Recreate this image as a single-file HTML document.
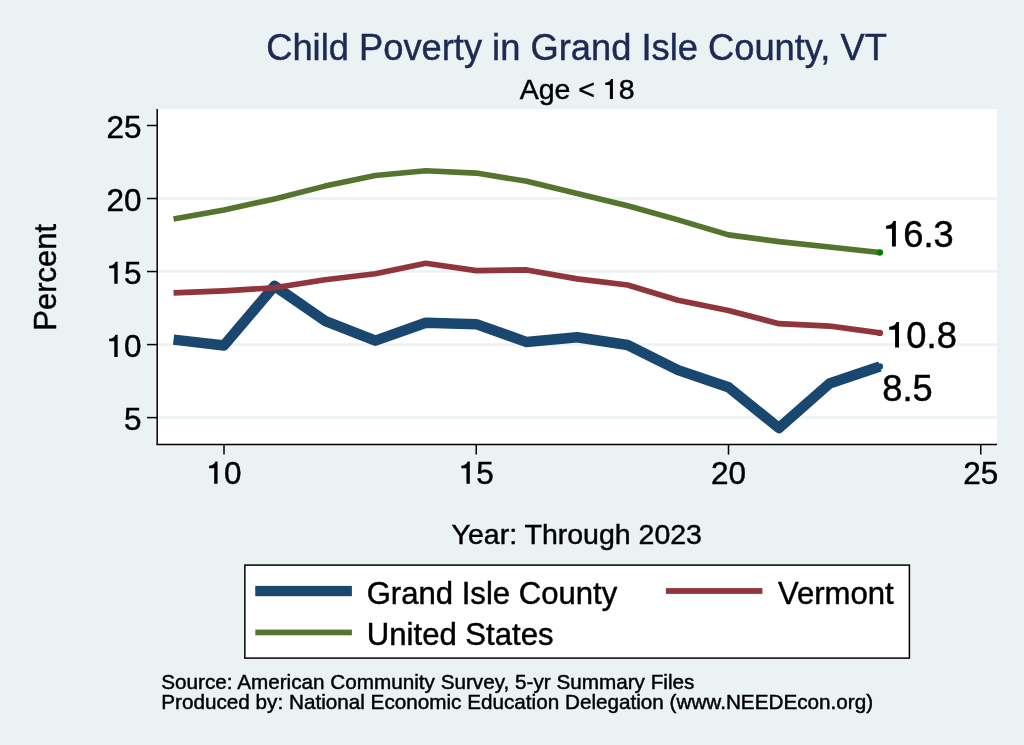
<!DOCTYPE html>
<html><head><meta charset="utf-8"><title>Child Poverty in Grand Isle County, VT</title>
<style>
html,body{margin:0;padding:0;background:#eaf2f3;}
body{width:1024px;height:745px;overflow:hidden;}
svg{display:block;will-change:transform;}
text{font-family:"Liberation Sans", sans-serif;white-space:pre;}
</style></head>
<body>
<svg width="1024" height="745" viewBox="0 0 1024 745">
<rect x="0" y="0" width="1024" height="745" fill="#eaf2f3"/>
<rect x="157" y="109" width="840" height="335.4" fill="#fff"/>
<line x1="158" x2="997" y1="417.60" y2="417.60" stroke="#eaf2f3" stroke-width="2.5"/>
<line x1="158" x2="997" y1="344.58" y2="344.58" stroke="#eaf2f3" stroke-width="2.5"/>
<line x1="158" x2="997" y1="271.55" y2="271.55" stroke="#eaf2f3" stroke-width="2.5"/>
<line x1="158" x2="997" y1="198.53" y2="198.53" stroke="#eaf2f3" stroke-width="2.5"/>
<polyline points="173.55,339.61 224.00,345.45 274.45,285.86 324.90,320.77 375.35,340.63 425.80,322.81 476.25,324.13 526.70,342.09 577.15,337.27 627.60,345.01 678.05,370.13 728.50,387.22 778.95,427.97 829.40,383.57 879.85,366.48" fill="none" stroke="#1a476f" stroke-width="10.5" stroke-linejoin="round" stroke-linecap="butt"/>
<circle cx="879.85" cy="366.48" r="3.2" fill="#1a476f"/>
<polyline points="173.55,292.87 224.00,290.83 274.45,287.76 324.90,279.73 375.35,273.74 425.80,263.23 476.25,270.67 526.70,269.94 577.15,278.85 627.60,284.99 678.05,300.32 728.50,310.55 778.95,323.69 829.40,326.03 879.85,332.89" fill="none" stroke="#90353b" stroke-width="5.7" stroke-linejoin="round" stroke-linecap="butt"/>
<circle cx="879.85" cy="332.89" r="3.2" fill="#90353b"/>
<polyline points="173.55,218.97 224.00,209.92 274.45,198.96 324.90,186.11 375.35,175.45 425.80,170.78 476.25,173.11 526.70,181.29 577.15,193.56 627.60,205.68 678.05,219.85 728.50,234.89 778.95,241.61 829.40,247.01 879.85,252.56" fill="none" stroke="#55752f" stroke-width="5.6" stroke-linejoin="round" stroke-linecap="butt"/>
<circle cx="879.85" cy="252.56" r="3.2" fill="#008000"/>
<line x1="157.2" x2="157.2" y1="109" y2="445.1" stroke="#000" stroke-width="1.5"/>
<line x1="156.5" x2="997" y1="444.4" y2="444.4" stroke="#000" stroke-width="1.5"/>
<line x1="147" x2="157.2" y1="417.60" y2="417.60" stroke="#000" stroke-width="1.5"/>
<text x="124.08" y="429.90" font-size="31.5" style="fill:#000;stroke:#000;stroke-width:0.45px">5</text>
<line x1="147" x2="157.2" y1="344.58" y2="344.58" stroke="#000" stroke-width="1.5"/>
<text x="106.56" y="356.88" font-size="31.5" style="fill:#000;stroke:#000;stroke-width:0.45px"> 0</text>
<path d="M0.352,0L0.352,0.702L0.284,0.702C0.263,0.626 0.2,0.578 0.082,0.572L0.082,0.494L0.245,0.494L0.245,0Z" transform="translate(106.56,356.88) scale(31.5,-31.5)" style="fill:#000"/>
<line x1="147" x2="157.2" y1="271.55" y2="271.55" stroke="#000" stroke-width="1.5"/>
<text x="106.56" y="283.85" font-size="31.5" style="fill:#000;stroke:#000;stroke-width:0.45px"> 5</text>
<path d="M0.352,0L0.352,0.702L0.284,0.702C0.263,0.626 0.2,0.578 0.082,0.572L0.082,0.494L0.245,0.494L0.245,0Z" transform="translate(106.56,283.85) scale(31.5,-31.5)" style="fill:#000"/>
<line x1="147" x2="157.2" y1="198.53" y2="198.53" stroke="#000" stroke-width="1.5"/>
<text x="106.56" y="210.83" font-size="31.5" style="fill:#000;stroke:#000;stroke-width:0.45px">20</text>
<line x1="147" x2="157.2" y1="125.50" y2="125.50" stroke="#000" stroke-width="1.5"/>
<text x="106.56" y="137.80" font-size="31.5" style="fill:#000;stroke:#000;stroke-width:0.45px">25</text>
<line x1="224.00" x2="224.00" y1="444.4" y2="454.6" stroke="#000" stroke-width="1.5"/>
<text x="206.48" y="483.70" font-size="31.5" style="fill:#000;stroke:#000;stroke-width:0.45px"> 0</text>
<path d="M0.352,0L0.352,0.702L0.284,0.702C0.263,0.626 0.2,0.578 0.082,0.572L0.082,0.494L0.245,0.494L0.245,0Z" transform="translate(206.48,483.70) scale(31.5,-31.5)" style="fill:#000"/>
<line x1="476.25" x2="476.25" y1="444.4" y2="454.6" stroke="#000" stroke-width="1.5"/>
<text x="458.73" y="483.70" font-size="31.5" style="fill:#000;stroke:#000;stroke-width:0.45px"> 5</text>
<path d="M0.352,0L0.352,0.702L0.284,0.702C0.263,0.626 0.2,0.578 0.082,0.572L0.082,0.494L0.245,0.494L0.245,0Z" transform="translate(458.73,483.70) scale(31.5,-31.5)" style="fill:#000"/>
<line x1="728.50" x2="728.50" y1="444.4" y2="454.6" stroke="#000" stroke-width="1.5"/>
<text x="710.98" y="483.70" font-size="31.5" style="fill:#000;stroke:#000;stroke-width:0.45px">20</text>
<line x1="980.75" x2="980.75" y1="444.4" y2="454.6" stroke="#000" stroke-width="1.5"/>
<text x="963.23" y="483.70" font-size="31.5" style="fill:#000;stroke:#000;stroke-width:0.45px">25</text>
<text x="883.10" y="246.60" font-size="36.3" style="fill:#000;stroke:#000;stroke-width:0.45px"> 6.3</text>
<path d="M0.352,0L0.352,0.702L0.284,0.702C0.263,0.626 0.2,0.578 0.082,0.572L0.082,0.494L0.245,0.494L0.245,0Z" transform="translate(883.10,246.60) scale(36.3,-36.3)" style="fill:#000"/>
<text x="886.20" y="347.60" font-size="36.3" style="fill:#000;stroke:#000;stroke-width:0.45px"> 0.8</text>
<path d="M0.352,0L0.352,0.702L0.284,0.702C0.263,0.626 0.2,0.578 0.082,0.572L0.082,0.494L0.245,0.494L0.245,0Z" transform="translate(886.20,347.60) scale(36.3,-36.3)" style="fill:#000"/>
<text x="882.30" y="401.00" font-size="36.3" style="fill:#000;stroke:#000;stroke-width:0.45px">8.5</text>
<text x="266.20" y="59.90" font-size="36.3" style="fill:#1c2a54;stroke:#1c2a54;stroke-width:0.45px">Child Poverty in Grand Isle County, VT</text>
<text x="519.70" y="99.00" font-size="28.5" style="fill:#000;stroke:#000;stroke-width:0.45px">Age &lt;  8</text>
<path d="M0.352,0L0.352,0.702L0.284,0.702C0.263,0.626 0.2,0.578 0.082,0.572L0.082,0.494L0.245,0.494L0.245,0Z" transform="translate(602.89,99.00) scale(28.5,-28.5)" style="fill:#000"/>
<text x="451.60" y="543.60" font-size="28.5" style="fill:#000;stroke:#000;stroke-width:0.45px">Year: Through 2023</text>
<text transform="translate(55.7,330.66) rotate(-90)" font-size="31" style="fill:#000;stroke:#000;stroke-width:0.45px">Percent</text>
<rect x="244.85" y="565.1" width="664.55" height="93" fill="#fff" stroke="#000" stroke-width="1.5"/>
<rect x="255.25" y="585.9" width="96.65" height="10.3" fill="#1a476f"/>
<rect x="665.9" y="588.1" width="96.5" height="5.8" fill="#90353b"/>
<rect x="255.3" y="629.6" width="96.6" height="5.7" fill="#55752f"/>
<text x="366.65" y="603.75" font-size="31.1" style="fill:#000;stroke:#000;stroke-width:0.45px">Grand Isle County</text>
<text x="777.95" y="603.75" font-size="31.1" style="fill:#000;stroke:#000;stroke-width:0.45px">Vermont</text>
<text x="366.85" y="644.70" font-size="31.1" style="fill:#000;stroke:#000;stroke-width:0.45px">United States</text>
<text x="161.30" y="688.80" font-size="20.7" style="fill:#000;stroke:#000;stroke-width:0.45px">Source: American Community Survey, 5-yr Summary Files</text>
<text x="161.30" y="708.60" font-size="20.7" style="fill:#000;stroke:#000;stroke-width:0.45px">Produced by: National Economic Education Delegation (www.NEEDEcon.org)</text>
</svg>
</body></html>
